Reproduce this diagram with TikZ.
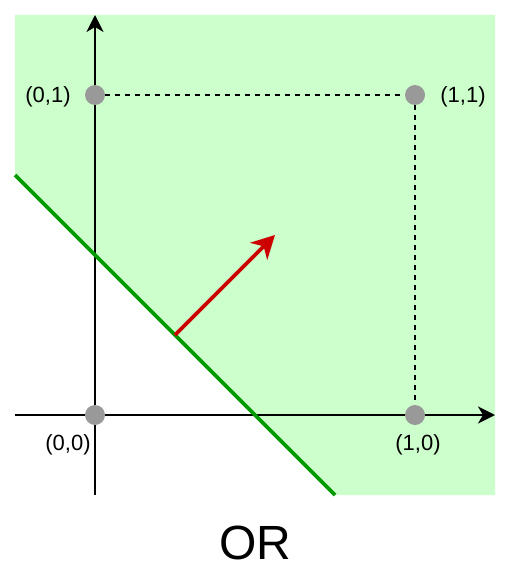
\documentclass[tikz,border=0pt]{standalone}
\usepackage{fontspec}
\setmainfont{Liberation Sans}
\usetikzlibrary{arrows.meta}
\begin{document}
\begin{tikzpicture}[x=1pt,y=-1pt,
  pt/.style={circle,fill=black!40,draw=none,minimum size=20pt,inner sep=0pt},
  lbl/.style={font=\fontsize{22}{24}\selectfont,inner sep=0pt},
  axis/.style={line width=2pt,-{Stealth[length=17pt,width=17pt,inset=5pt]}},
  guide/.style={line width=1.8pt,dash pattern=on 5pt off 5pt}]
\useasboundingbox (0,0) rectangle (512,578);
\fill[fill={rgb,255:red,204;green,255;blue,204}] (15,15) -- (495,15) -- (495,495) -- (335,495) -- (15,175) -- cycle;
\coordinate (ybot) at (95,495);
\coordinate (ytop) at (95,15);
\coordinate (xl) at (15,415);
\coordinate (xr) at (495,415);
\draw[axis] (ybot) -- (ytop);
\draw[axis] (xl) -- (xr);
\coordinate (g1) at (15,175);
\coordinate (g2) at (335,495);
\draw[line width=3.8pt,color={rgb,255:red,0;green,153;blue,0}] (g1) -- (g2);
\coordinate (r1) at (175,335);
\coordinate (r2) at (275,235);
\draw[line width=3.8pt,color={rgb,255:red,204;green,0;blue,0},-{Stealth[length=23pt,width=24pt,inset=7pt]}] (r1) -- (r2);
\node[pt] (p00) at (95,415) {};
\node[pt] (p01) at (95,95) {};
\node[pt] (p11) at (415,95) {};
\node[pt] (p10) at (415,415) {};
\draw[guide] (p01) -- (p11) -- (p10);
\node[lbl] (l01) at (48,97) {(0,1)};
\node[lbl] (l11) at (463,97) {(1,1)};
\node[lbl] (l00) at (68,445) {(0,0)};
\node[lbl] (l10) at (418,445) {(1,0)};
\node[font=\fontsize{48}{52}\selectfont,inner sep=0pt] (or) at (255,543) {OR};
\end{tikzpicture}
\end{document}
